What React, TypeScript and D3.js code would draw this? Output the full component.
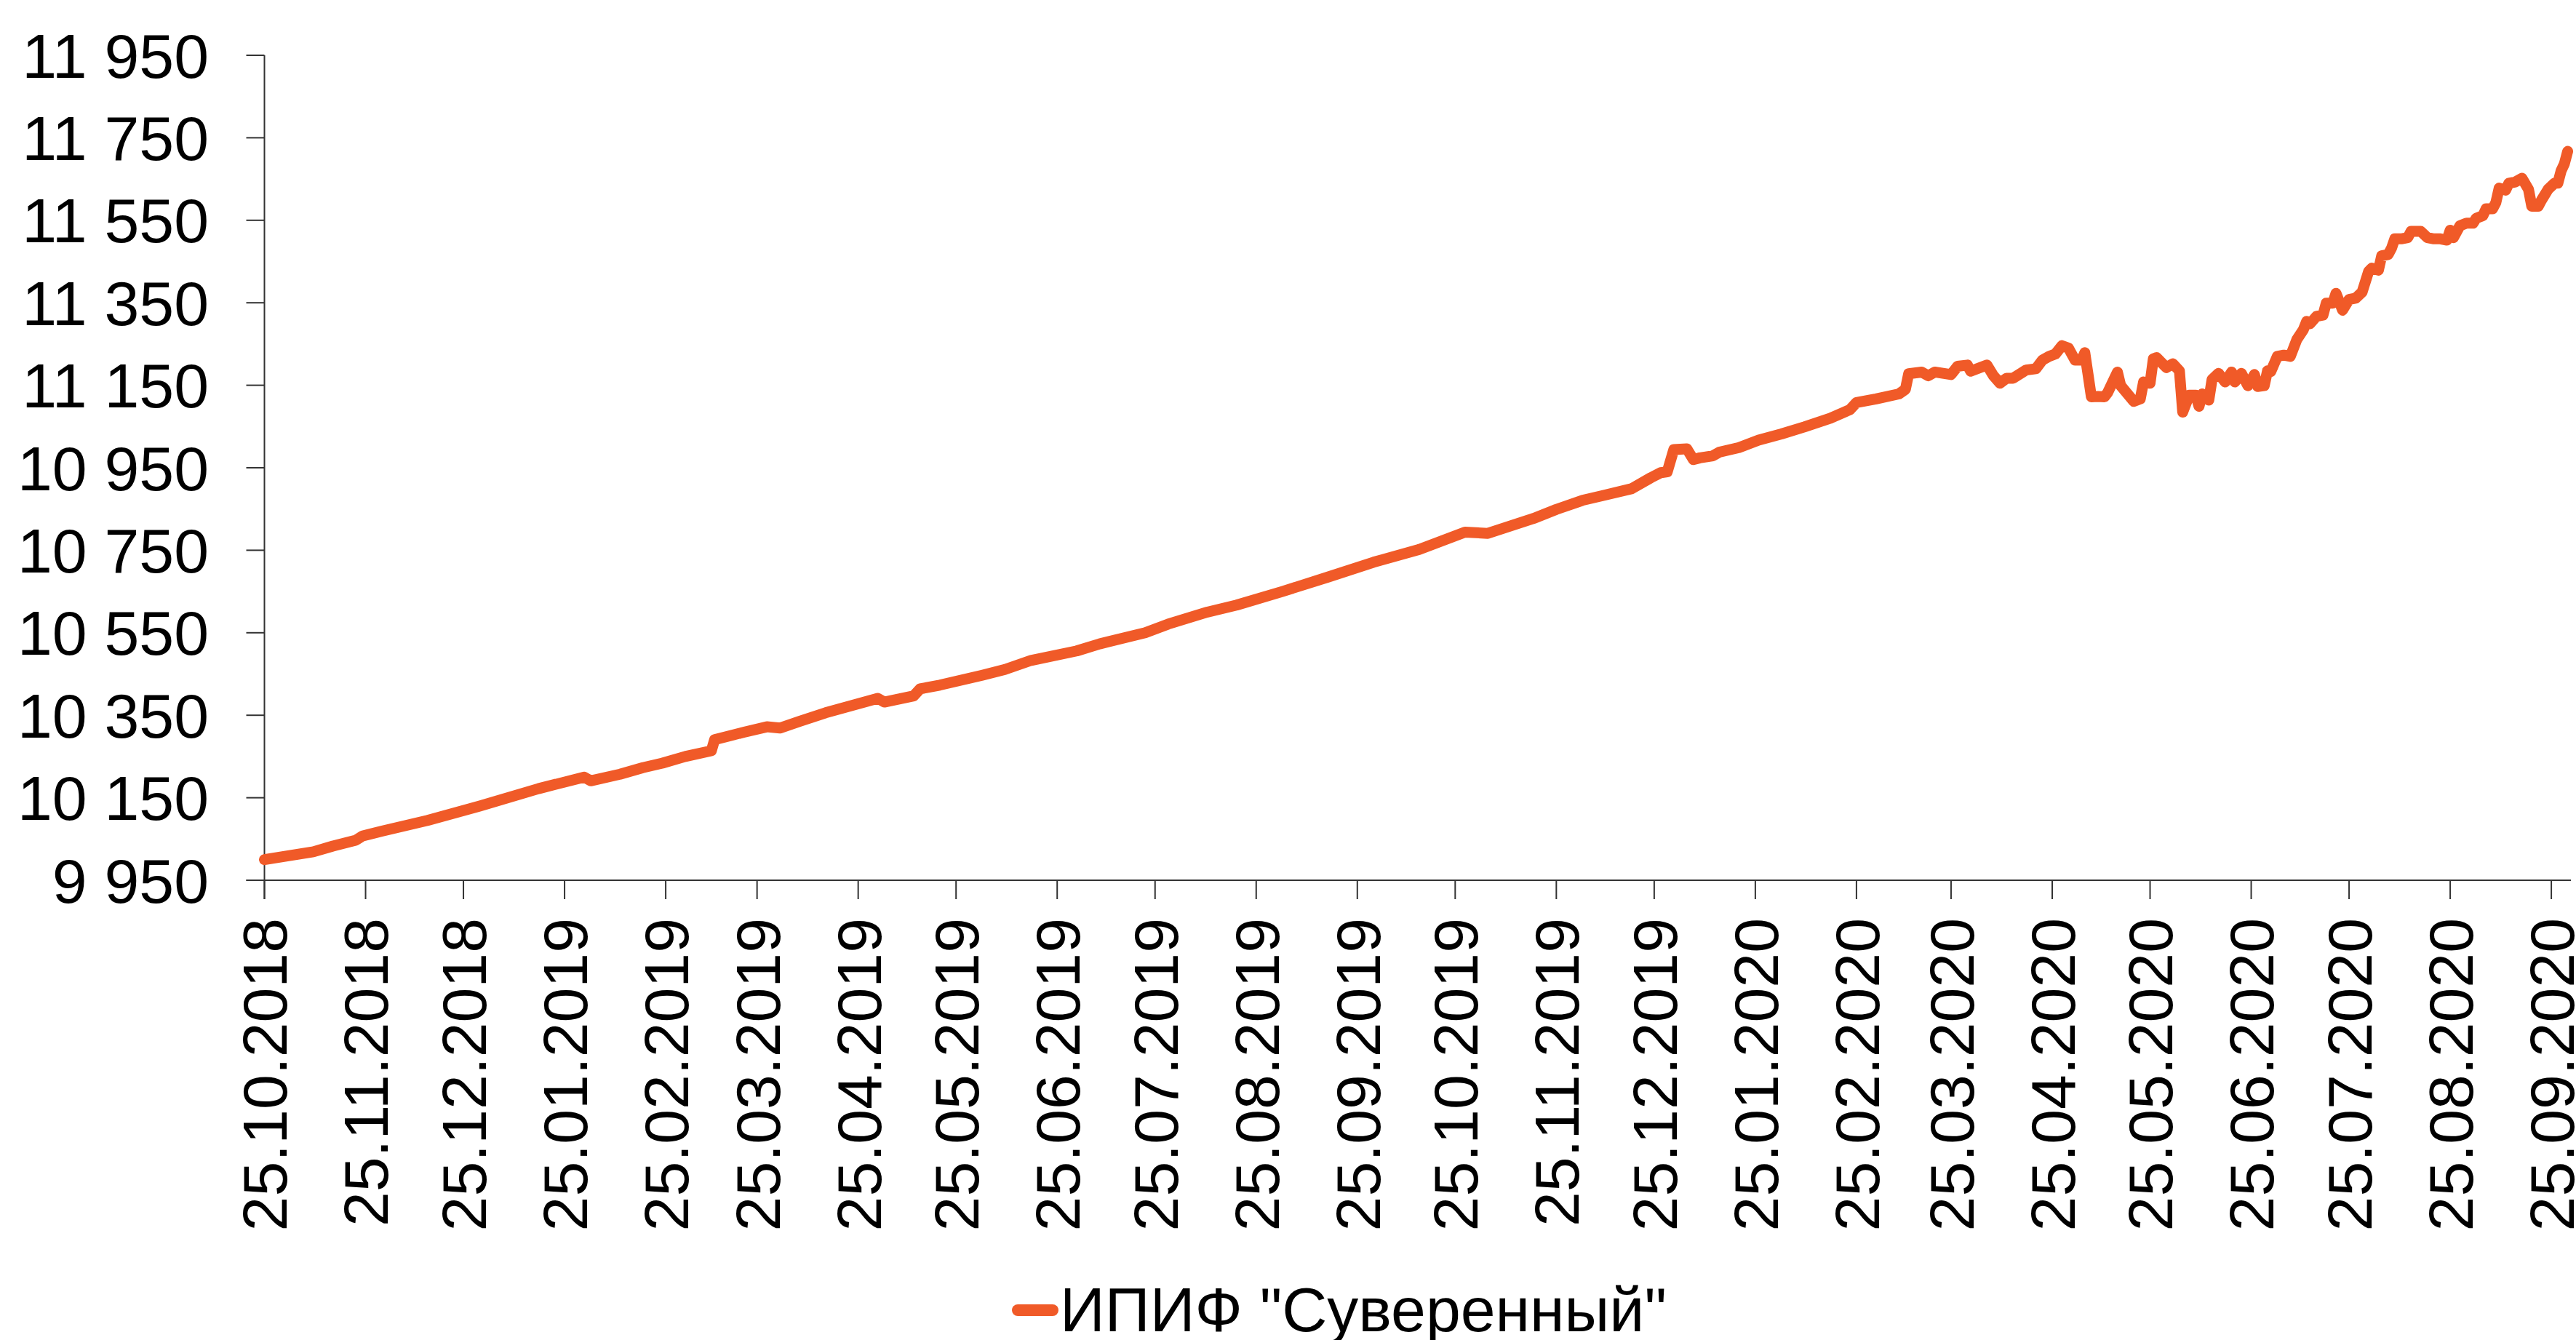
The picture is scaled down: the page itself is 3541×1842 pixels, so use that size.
import React from "react";
import * as d3 from "d3";

const seriesName = 'ИПИФ "Суверенный"';

const dates: string[] = [
  "25.10.2018", "09.11.2018", "15.11.2018", "22.11.2018", "24.11.2018", "30.11.2018",
  "14.12.2018", "30.12.2018", "17.01.2019", "31.01.2019", "02.02.2019", "11.02.2019",
  "18.02.2019", "24.02.2019", "03.03.2019", "11.03.2019", "12.03.2019", "21.03.2019",
  "28.03.2019", "01.04.2019", "07.04.2019", "15.04.2019", "01.05.2019", "03.05.2019",
  "12.05.2019", "14.05.2019", "20.05.2019", "02.06.2019", "09.06.2019", "17.06.2019",
  "01.07.2019", "08.07.2019", "22.07.2019", "29.07.2019", "10.08.2019", "19.08.2019",
  "02.09.2019", "16.09.2019", "30.09.2019", "14.10.2019", "28.10.2019", "04.11.2019",
  "11.11.2019", "18.11.2019", "25.11.2019", "03.12.2019", "09.12.2019", "18.12.2019",
  "24.12.2019", "27.12.2019", "29.12.2019", "31.12.2019", "04.01.2020", "06.01.2020",
  "08.01.2020", "12.01.2020", "14.01.2020", "20.01.2020", "26.01.2020", "02.02.2020",
  "09.02.2020", "17.02.2020", "23.02.2020", "25.02.2020", "02.03.2020", "09.03.2020",
  "11.03.2020", "12.03.2020", "16.03.2020", "18.03.2020", "20.03.2020", "25.03.2020",
  "27.03.2020", "30.03.2020", "31.03.2020", "05.04.2020", "07.04.2020", "09.04.2020",
  "11.04.2020", "13.04.2020", "17.04.2020", "20.04.2020", "22.04.2020", "24.04.2020",
  "26.04.2020", "28.04.2020", "30.04.2020", "02.05.2020", "04.05.2020", "05.05.2020",
  "07.05.2020", "09.05.2020", "11.05.2020", "12.05.2020", "15.05.2020", "16.05.2020",
  "20.05.2020", "22.05.2020", "23.05.2020", "25.05.2020", "26.05.2020", "27.05.2020",
  "30.05.2020", "01.06.2020", "03.06.2020", "04.06.2020", "06.06.2020", "08.06.2020",
  "09.06.2020", "10.06.2020", "12.06.2020", "13.06.2020", "15.06.2020", "17.06.2020",
  "19.06.2020", "20.06.2020", "22.06.2020", "24.06.2020", "26.06.2020", "27.06.2020",
  "29.06.2020", "30.06.2020", "01.07.2020", "03.07.2020", "05.07.2020", "07.07.2020",
  "09.07.2020", "11.07.2020", "12.07.2020", "13.07.2020", "15.07.2020", "17.07.2020",
  "18.07.2020", "20.07.2020", "21.07.2020", "23.07.2020", "25.07.2020", "27.07.2020",
  "29.07.2020", "31.07.2020", "01.08.2020", "03.08.2020", "04.08.2020", "06.08.2020",
  "07.08.2020", "08.08.2020", "10.08.2020", "12.08.2020", "13.08.2020", "16.08.2020",
  "18.08.2020", "20.08.2020", "22.08.2020", "24.08.2020", "25.08.2020", "26.08.2020",
  "28.08.2020", "30.08.2020", "01.09.2020", "02.09.2020", "04.09.2020", "05.09.2020",
  "07.09.2020", "08.09.2020", "09.09.2020", "11.09.2020", "12.09.2020", "14.09.2020",
  "16.09.2020", "18.09.2020", "19.09.2020", "21.09.2020", "22.09.2020", "24.09.2020",
  "26.09.2020", "27.09.2020", "28.09.2020", "29.09.2020", "30.09.2020",
];

const values: number[] = [
  10000, 10019, 10033, 10047, 10057, 10069,
  10095, 10130, 10172, 10200, 10191, 10207,
  10223, 10234, 10250, 10264, 10291, 10309,
  10322, 10319, 10335, 10356, 10391, 10382,
  10397, 10414, 10423, 10447, 10461, 10483,
  10506, 10523, 10550, 10571, 10600, 10617,
  10650, 10685, 10721, 10752, 10794, 10791,
  10809, 10827, 10849, 10871, 10882, 10899,
  10926, 10938, 10940, 10994, 10996, 10970,
  10974, 10979, 10988, 10999, 11017, 11032,
  11049, 11070, 11091, 11108, 11117, 11129,
  11140, 11178, 11182, 11173, 11182, 11176,
  11196, 11199, 11184, 11199, 11173, 11155,
  11167, 11167, 11187, 11190, 11211, 11220,
  11226, 11246, 11240, 11211, 11211, 11229,
  11122, 11123, 11122, 11132, 11182, 11149,
  11111, 11117, 11158, 11155, 11214, 11217,
  11193, 11202, 11185, 11085, 11126, 11126,
  11099, 11129, 11114, 11164, 11179, 11158,
  11182, 11158, 11179, 11149, 11176, 11147,
  11149, 11185, 11183, 11220, 11223, 11220,
  11261, 11285, 11305, 11299, 11317, 11320,
  11349, 11349, 11373, 11332, 11358, 11361,
  11376, 11426, 11434, 11429, 11464, 11467,
  11482, 11505, 11505, 11508, 11523, 11523,
  11508, 11505, 11505, 11502, 11526, 11508,
  11537, 11543, 11543, 11555, 11561, 11578,
  11578, 11593, 11628, 11623, 11640, 11643,
  11652, 11625, 11584, 11584, 11599, 11625,
  11640, 11640, 11670, 11687, 11717,
];

const yTicks: number[] = [9950, 10150, 10350, 10550, 10750, 10950, 11150, 11350, 11550, 11750, 11950];
const yDomain: [number, number] = [9950, 11950];

const xTickLabels: string[] = [
  "25.10.2018", "25.11.2018", "25.12.2018", "25.01.2019", "25.02.2019", "25.03.2019",
  "25.04.2019", "25.05.2019", "25.06.2019", "25.07.2019", "25.08.2019", "25.09.2019",
  "25.10.2019", "25.11.2019", "25.12.2019", "25.01.2020", "25.02.2020", "25.03.2020",
  "25.04.2020", "25.05.2020", "25.06.2020", "25.07.2020", "25.08.2020", "25.09.2020",
];
const xDomain: string[] = ["25.10.2018", "01.10.2020"];

const FONT = '"Liberation Sans", Arial, Helvetica, sans-serif';
const LINE_COLOR = "#F05A28";
const AXIS_COLOR = "#333333";

function fmtY(v: number): string {
  const th = Math.floor(v / 1000);
  const rest = String(v % 1000).padStart(3, "0");
  return `${th} ${rest}`;
}

export default function App() {
  const W = 3541;
  const H = 1842;
  const left = 363.5;
  const right = 3534;
  const top = 76;
  const bottom = 1210;
  const tickLen = 26;
  const fontSize = 86;

  const parse = d3.timeParse("%d.%m.%Y");
  const x = d3
    .scaleTime()
    .domain(xDomain.map((s) => parse(s) as Date))
    .range([left, right]);
  const y = d3.scaleLinear().domain(yDomain).range([bottom, top]);

  const pts: [number, number][] = dates.map((d, i) => [x(parse(d) as Date), y(values[i])]);
  const linePath = d3.line().curve(d3.curveLinear)(pts) || "";

  return (
    <svg
      width={W}
      height={H}
      viewBox={`0 0 ${W} ${H}`}
      style={{ position: "absolute", left: 0, top: 0, display: "block", background: "#fff" }}
      fontFamily={FONT}
    >
      <rect x={0} y={0} width={W} height={H} fill="#fff" />
      {/* Y axis */}
      <line x1={left} x2={left} y1={top} y2={bottom + tickLen} stroke={AXIS_COLOR} strokeWidth={2} />
      {yTicks.map((t) => (
        <g key={`y${t}`}>
          <line x1={left - 25} x2={left} y1={y(t)} y2={y(t)} stroke={AXIS_COLOR} strokeWidth={2} />
          <text x={287} y={y(t)} dy="0.355em" textAnchor="end" fontSize={fontSize} fill="#000">
            {fmtY(t)}
          </text>
        </g>
      ))}
      {/* X axis */}
      <line x1={left - 25} x2={right} y1={bottom} y2={bottom} stroke={AXIS_COLOR} strokeWidth={2} />
      {xTickLabels.map((s) => {
        const xp = x(parse(s) as Date);
        return (
          <g key={`x${s}`}>
            <line x1={xp} x2={xp} y1={bottom} y2={bottom + tickLen} stroke={AXIS_COLOR} strokeWidth={2} />
            <text
              transform={`translate(${xp},${1262}) rotate(-90)`}
              dy="0.36em"
              textAnchor="end"
              fontSize={fontSize}
              fill="#000"
            >
              {s}
            </text>
          </g>
        );
      })}
      {/* Series line */}
      <path
        d={linePath}
        fill="none"
        stroke={LINE_COLOR}
        strokeWidth={15}
        strokeLinejoin="round"
        strokeLinecap="round"
      />
      {/* Legend */}
      <line x1={1399} x2={1447} y1={1801} y2={1801} stroke={LINE_COLOR} strokeWidth={16} strokeLinecap="round" />
      <text x={1457} y={1830} fontSize={fontSize} fill="#000">
        {seriesName}
      </text>
    </svg>
  );
}
